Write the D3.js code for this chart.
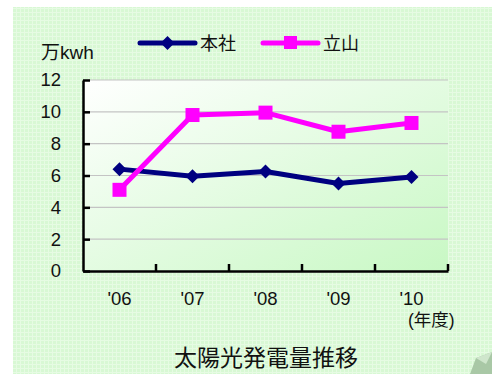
<!DOCTYPE html>
<html>
<head>
<meta charset="utf-8">
<script src="https://cdn.jsdelivr.net/npm/d3@7"></script>
<style>
body { margin: 0; background: #fff; }
svg { display: block; font-family: Arial, "Liberation Sans", "Noto Sans CJK JP", sans-serif; }
</style>
</head>
<body>
<div id="chart"></div>
<script>
// data
var years = ["'06", "'07", "'08", "'09", "'10"];
var honsha = [6.4, 5.95, 6.25, 5.5, 5.9];
var tateyama = [5.1, 9.8, 9.95, 8.75, 9.3];
var yTicks = [0, 2, 4, 6, 8, 10, 12];
var seriesNames = ["本社", "立山"];
var seriesColors = ["#000080", "#ff00ff"];

var W = 492, H = 374;
var margin = {top: 80, right: 44, bottom: 103, left: 83},
    width = W - margin.left - margin.right,
    height = H - margin.top - margin.bottom;

var svg = d3.select("#chart").append("svg")
    .attr("width", W)
    .attr("height", H);

var defs = svg.append("defs");

// checked green background pattern
var pat = defs.append("pattern")
    .attr("id", "check")
    .attr("width", 4).attr("height", 4)
    .attr("patternUnits", "userSpaceOnUse");
pat.append("rect").attr("width", 4).attr("height", 4).attr("fill", "#d8f8d4");
pat.append("rect").attr("width", 4).attr("height", 1).attr("fill", "#e6fbe3");
pat.append("rect").attr("width", 1).attr("height", 4).attr("fill", "#e6fbe3");

var grad = defs.append("linearGradient")
    .attr("id", "plotbg")
    .attr("x1", "0%").attr("y1", "0%")
    .attr("x2", "100%").attr("y2", "100%");
grad.append("stop").attr("offset", "0%").attr("stop-color", "#ffffff");
grad.append("stop").attr("offset", "100%").attr("stop-color", "#c8f8c4");

svg.append("rect")
    .attr("x", 13).attr("y", 7)
    .attr("width", W - 13).attr("height", H - 7)
    .attr("fill", "url(#check)");

// page curl in the corner
svg.append("path")
    .attr("d", "M470,374 L476,358 L492,352 L492,374 Z")
    .attr("fill", "#a9c8a6");
svg.append("path")
    .attr("d", "M476,358 L492,352 L486,364 Z")
    .attr("fill", "#cfe6cc");

var g = svg.append("g")
    .attr("transform", "translate(" + margin.left + "," + margin.top + ")");

g.append("rect")
    .attr("width", width).attr("height", height)
    .attr("fill", "url(#plotbg)");

var x = d3.scaleBand().domain(years).range([0, width]);
var y = d3.scaleLinear().domain([0, 12]).range([height, 0]);

// gridlines
g.selectAll(".grid")
    .data(yTicks.filter(function(d) { return d > 0; }))
    .enter().append("line")
    .attr("x1", 0).attr("x2", width)
    .attr("y1", function(d) { return y(d); })
    .attr("y2", function(d) { return y(d); })
    .attr("stroke", "#c4c4c4")
    .attr("stroke-width", 1.2);

// y axis
var yAxis = g.append("g")
    .call(d3.axisLeft(y).tickValues(yTicks).tickSize(-7).tickPadding(22).tickSizeOuter(0));
yAxis.select(".domain").attr("stroke", "#000").attr("stroke-width", 2.5);
yAxis.selectAll(".tick line").attr("stroke", "#000").attr("stroke-width", 2.5);
yAxis.selectAll(".tick text").style("font-size", "18.5px").attr("fill", "#111");

// x axis, ticks on category boundaries
var xAxis = g.append("g")
    .attr("transform", "translate(0," + height + ")")
    .call(d3.axisBottom(x).tickSize(0).tickPadding(21));
xAxis.select(".domain").attr("stroke", "#000").attr("stroke-width", 2.5);
xAxis.selectAll(".tick text").style("font-size", "18.5px").attr("fill", "#111");
g.selectAll(".xtick")
    .data(years.slice(1).concat(["end"]))
    .enter().append("line")
    .attr("x1", function(d, i) { return x.step() * (i + 1); })
    .attr("x2", function(d, i) { return x.step() * (i + 1); })
    .attr("y1", height).attr("y2", height - 7)
    .attr("stroke", "#000").attr("stroke-width", 2.5);

// lines and markers
var series = [honsha, tateyama];
var line = d3.line()
    .x(function(d, i) { return x(years[i]) + x.bandwidth() / 2; })
    .y(function(d) { return y(d); });

series.forEach(function(vals, s) {
    g.append("path")
        .datum(vals)
        .attr("d", line)
        .attr("fill", "none")
        .attr("stroke", seriesColors[s])
        .attr("stroke-width", 5)
        .attr("stroke-linejoin", "round");
});

g.selectAll(".dia")
    .data(honsha)
    .enter().append("path")
    .attr("transform", function(d, i) { return "translate(" + (x(years[i]) + x.bandwidth() / 2) + "," + y(d) + ")"; })
    .attr("d", "M0,-7 L7,0 L0,7 L-7,0 Z")
    .attr("fill", seriesColors[0]);

g.selectAll(".sq")
    .data(tateyama)
    .enter().append("rect")
    .attr("x", function(d, i) { return x(years[i]) + x.bandwidth() / 2 - 7; })
    .attr("y", function(d) { return y(d) - 7; })
    .attr("width", 14).attr("height", 14)
    .attr("fill", seriesColors[1]);

// legend
var legendX = [140, 263];
seriesNames.forEach(function(name, s) {
    var lg = svg.append("g").attr("transform", "translate(" + legendX[s] + ",43)");
    lg.append("line")
        .attr("x1", 0).attr("x2", 55)
        .attr("stroke", seriesColors[s]).attr("stroke-width", 5)
        .attr("stroke-linecap", "round");
    if (s === 0) {
        lg.append("path").attr("d", "M27.5,-7 L34.5,0 L27.5,7 L20.5,0 Z").attr("fill", seriesColors[s]);
    } else {
        lg.append("rect").attr("x", 21).attr("y", -7).attr("width", 13).attr("height", 13).attr("fill", seriesColors[s]);
    }
    lg.append("text")
        .attr("x", 60).attr("y", 7)
        .style("font-size", "18px")
        .attr("fill", "#111")
        .text(name);
});

// unit labels and title
svg.append("text")
    .attr("x", 41).attr("y", 59)
    .style("font-size", "19px")
    .attr("fill", "#111")
    .text("万kwh");

svg.append("text")
    .attr("x", 408).attr("y", 326)
    .style("font-size", "17.5px")
    .attr("fill", "#111")
    .text("(年度)");

svg.append("text")
    .attr("x", 266).attr("y", 366)
    .attr("text-anchor", "middle")
    .style("font-size", "23px")
    .attr("fill", "#111")
    .text("太陽光発電量推移");
</script>
</body>
</html>
